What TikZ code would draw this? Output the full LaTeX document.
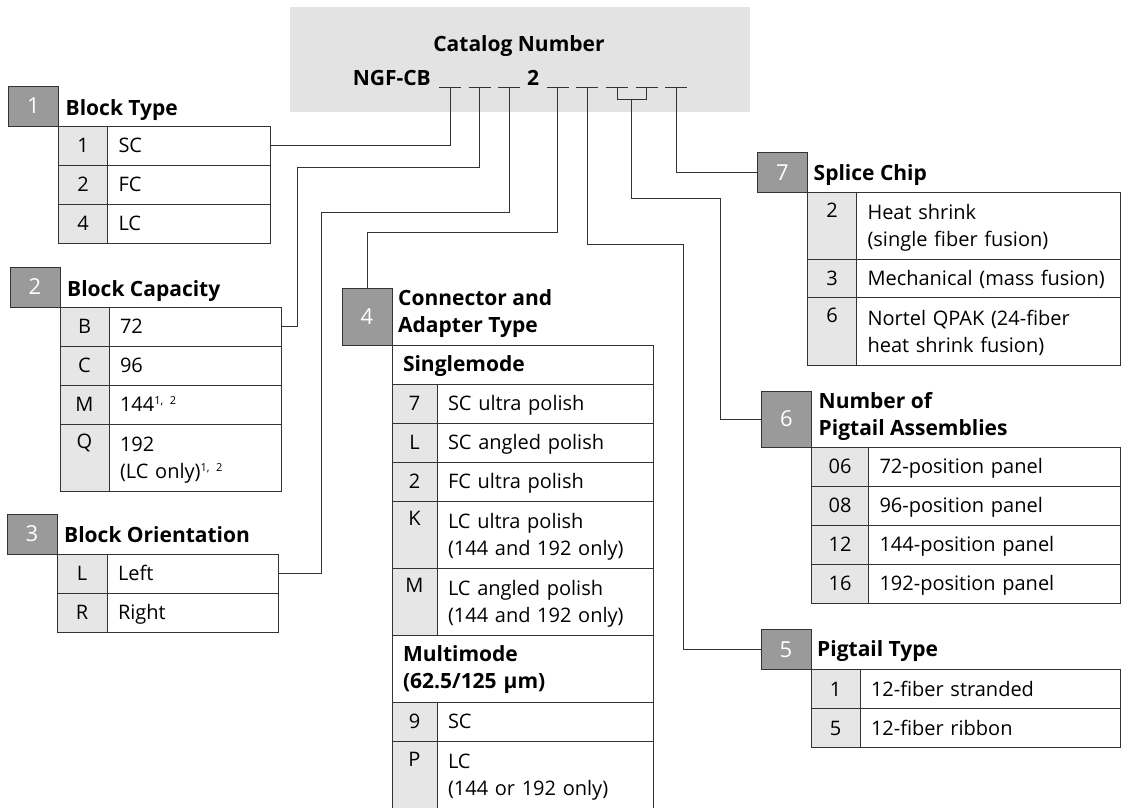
\documentclass[tikz,border=0pt]{standalone}
\usepackage{fontspec}
\setmainfont{Open Sans}
\usepackage{xcolor}
\usetikzlibrary{positioning}

\definecolor{hdrgray}{HTML}{E3E3E3}
\definecolor{boxgray}{HTML}{9A9A9A}
\definecolor{codegray}{HTML}{E6E6E6}
\definecolor{linegray}{HTML}{333333}
\newcommand\rowstrut{\rule[-5pt]{0pt}{24pt}}
\newcommand\fnmark[1]{\raisebox{7pt}{\fontsize{11}{11}\selectfont #1}}

\tikzset{
  numbox/.style={draw=linegray, fill=boxgray, text=white, line width=1pt,
    font=\fontsize{22}{26}\selectfont, minimum width=50pt, minimum height=40pt,
    inner sep=0pt, outer sep=0pt},
  titletext/.style={font=\bfseries\fontsize{21}{27}\selectfont, align=left,
    inner sep=0pt, anchor=base west},
  hdrtext/.style={font=\bfseries\fontsize{21}{25}\selectfont, inner sep=0pt},
  cell/.style={draw=linegray, line width=1pt, outer sep=0pt, inner xsep=11pt,
    inner ysep=0pt, anchor=north west, minimum height=39pt,
    font=\fontsize{20}{27}\selectfont,
    execute at begin node=\rowstrut, execute at end node=\rowstrut},
  code/.style={cell, fill=codegray, align=center, inner xsep=0pt},
  desc/.style={cell, fill=white, align=left},
  subhead/.style={desc, font=\bfseries\fontsize{21}{27}\selectfont},
  link/.style={draw=linegray, line width=1pt},
}

\begin{document}
\begin{tikzpicture}[x=1pt,y=-1pt]
\useasboundingbox (0,0) rectangle (1123,807);

% catalog number header
\fill[hdrgray] (290,7) rectangle (750,112);
\node[hdrtext, anchor=base] (cat) at (519,51) {Catalog Number};
\node[hdrtext, anchor=base east] (ngf) at (431,85) {NGF-CB};
\node[hdrtext, anchor=base] (two) at (533,85) {2};
\foreach \x in {450,479.5,509,557.5,587,617,646.5,676}
  \draw[link] (\x-11,87) -- (\x+11,87);
\coordinate (k1) at (450,87);
\coordinate (k2) at (479.5,87);
\coordinate (k3) at (509,87);
\coordinate (k4) at (557.5,87);
\coordinate (k5) at (587,87);
\coordinate (k6a) at (617,87);
\coordinate (k6b) at (646.5,87);
\coordinate (k6) at (631.75,99);
\coordinate (k7) at (676,87);

% 1 block type
\node[numbox] (n1) at (33.5,106) {1};
\node[titletext, right=7pt of n1.south east, anchor=base west, yshift=11pt] (t1) {Block Type};
\node[code, minimum width=49pt] (c11) at (n1.south east) {1};
\node[desc, text width=141pt] (d11) at (c11.north east) {SC};
\node[code, minimum width=49pt] (c12) at (c11.south west) {2};
\node[desc, text width=141pt] (d12) at (c12.north east) {FC};
\node[code, minimum width=49pt] (c13) at (c12.south west) {4};
\node[desc, text width=141pt] (d13) at (c13.north east) {LC};

% 2 block capacity
\node[numbox] (n2) at (35,287) {2};
\node[titletext, right=7pt of n2.south east, anchor=base west, yshift=11pt] (t2) {Block Capacity};
\node[code, minimum width=49pt] (c21) at (n2.south east) {B};
\node[desc, text width=150pt] (d21) at (c21.north east) {72};
\node[code, minimum width=49pt] (c22) at (c21.south west) {C};
\node[desc, text width=150pt] (d22) at (c22.north east) {96};
\node[code, minimum width=49pt] (c23) at (c22.south west) {M};
\node[desc, text width=150pt] (d23) at (c23.north east) {144\fnmark{1, 2}};
\node[code, minimum width=49pt, minimum height=67pt] (c24) at (c23.south west) {Q\\\phantom{Q}};
\node[desc, text width=150pt, minimum height=67pt] (d24) at (c24.north east) {192\\(LC only)\fnmark{1, 2}};

% 3 block orientation
\node[numbox] (n3) at (32,534) {3};
\node[titletext, right=7pt of n3.south east, anchor=base west, yshift=12pt] (t3) {Block Orientation};
\node[code, minimum width=50pt] (c31) at (n3.south east) {L};
\node[desc, text width=149pt] (d31) at (c31.north east) {Left};
\node[code, minimum width=50pt] (c32) at (c31.south west) {R};
\node[desc, text width=149pt] (d32) at (c32.north east) {Right};

% 4 connector and adapter type
\node[numbox, minimum height=57pt] (n4) at (367,316.5) {4};
\node[titletext, right=6pt of n4.south east, anchor=base west, yshift=13pt] (t4) {Connector and\\Adapter Type};
\node[subhead, text width=239pt] (s41) at (n4.south east) {Singlemode};
\node[code, minimum width=45pt] (c41) at (s41.south west) {7};
\node[desc, text width=194pt] (d41) at (c41.north east) {SC ultra polish};
\node[code, minimum width=45pt] (c42) at (c41.south west) {L};
\node[desc, text width=194pt] (d42) at (c42.north east) {SC angled polish};
\node[code, minimum width=45pt] (c43) at (c42.south west) {2};
\node[desc, text width=194pt] (d43) at (c43.north east) {FC ultra polish};
\node[code, minimum width=45pt, minimum height=67pt] (c44) at (c43.south west) {K\\\phantom{K}};
\node[desc, text width=194pt, minimum height=67pt] (d44) at (c44.north east) {LC ultra polish\\(144 and 192 only)};
\node[code, minimum width=45pt, minimum height=67pt] (c45) at (c44.south west) {M\\\phantom{M}};
\node[desc, text width=194pt, minimum height=67pt] (d45) at (c45.north east) {LC angled polish\\(144 and 192 only)};
\node[subhead, text width=239pt, minimum height=67pt] (s42) at (c45.south west) {Multimode\\(62.5/125 µm)};
\node[code, minimum width=45pt] (c46) at (s42.south west) {9};
\node[desc, text width=194pt] (d46) at (c46.north east) {SC};
\node[code, minimum width=45pt, minimum height=68pt] (c47) at (c46.south west) {P\\\phantom{P}};
\node[desc, text width=194pt, minimum height=68pt] (d47) at (c47.north east) {LC\\(144 or 192 only)};

% 7 splice chip
\node[numbox] (n7) at (782.5,172.5) {7};
\node[titletext, right=6pt of n7.south east, anchor=base west, yshift=12pt] (t7) {Splice Chip};
\node[code, minimum width=49pt, minimum height=67pt] (c71) at (n7.south east) {2\\\phantom{2}};
\node[desc, text width=242pt, minimum height=67pt] (d71) at (c71.north east) {Heat shrink\\(single fiber fusion)};
\node[code, minimum width=49pt, minimum height=38pt] (c72) at (c71.south west) {3};
\node[desc, text width=242pt, minimum height=38pt] (d72) at (c72.north east) {Mechanical (mass fusion)};
\node[code, minimum width=49pt, minimum height=68pt] (c73) at (c72.south west) {6\\\phantom{6}};
\node[desc, text width=242pt, minimum height=68pt] (d73) at (c73.north east) {Nortel QPAK (24-fiber\\heat shrink fusion)};

% 6 number of pigtail assemblies
\node[numbox, minimum height=56pt] (n6) at (786.5,419) {6};
\node[titletext, right=7pt of n6.south east, anchor=base west, yshift=12pt] (t6) {Number of\\Pigtail Assemblies};
\node[code, minimum width=57pt] (c61) at (n6.south east) {06};
\node[desc, text width=230pt] (d61) at (c61.north east) {72-position panel};
\node[code, minimum width=57pt] (c62) at (c61.south west) {08};
\node[desc, text width=230pt] (d62) at (c62.north east) {96-position panel};
\node[code, minimum width=57pt] (c63) at (c62.south west) {12};
\node[desc, text width=230pt] (d63) at (c63.north east) {144-position panel};
\node[code, minimum width=57pt] (c64) at (c63.south west) {16};
\node[desc, text width=230pt] (d64) at (c64.north east) {192-position panel};

% 5 pigtail type
\node[numbox] (n5) at (786,649.5) {5};
\node[titletext, right=6pt of n5.south east, anchor=base west, yshift=13pt] (t5) {Pigtail Type};
\node[code, minimum width=49pt] (c51) at (n5.south east) {1};
\node[desc, text width=238pt] (d51) at (c51.north east) {12-fiber stranded};
\node[code, minimum width=49pt] (c52) at (c51.south west) {5};
\node[desc, text width=238pt] (d52) at (c52.north east) {12-fiber ribbon};

% connectors
\draw[link] (k1) |- (d11.east);
\draw[link] (k2) |- (297,167) |- (d21.east);
\draw[link] (k3) |- (321,212) |- (d31.east);
\draw[link] (k4) -- ++(0,145) -| (n4.north);
\draw[link] (k5) |- (683,244) |- (n5.west);
\draw[link] (k6a) -- ++(0,12) -| (k6b);
\draw[link] (k6) |- (720,198) |- (n6.west);
\draw[link] (k7) |- (n7.west);
\end{tikzpicture}
\end{document}
